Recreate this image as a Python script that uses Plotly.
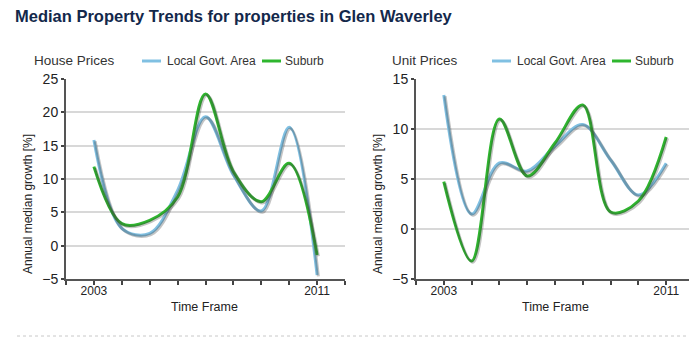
import plotly.graph_objects as go

# ---- data ----
years = [2003, 2004, 2005, 2006, 2007, 2008, 2009, 2010, 2011]
house_lga = [15.85, 2.6, 1.85, 8.3, 19.35, 10.6, 5.2, 17.75, -4.4]
house_suburb = [11.85, 3.3, 3.8, 7.3, 22.75, 11.1, 6.6, 12.35, -1.4]
unit_lga = [13.4, 1.5, 6.6, 5.8, 8.3, 10.45, 6.9, 3.4, 6.57]
unit_suburb = [4.73, -3.2, 11.0, 5.3, 8.6, 12.4, 1.7, 2.8, 9.2]

x_tickvals = list(range(2002, 2013))
x_ticktext = ["2003" if v == 2003 else "2011" if v == 2011 else "" for v in x_tickvals]

OFF = 8  # page body margin
W, H = 697 - OFF, 356 - OFF
BLUE = "#80c0e2"
GREEN = "#2eb62e"
SHADOW = "rgba(60,60,60,0.3)"
FONT = "Liberation Sans, Arial, sans-serif"


def px(x):
    return (x - OFF) / W


def py(y):
    return 1 - (y - OFF) / H


fig = go.Figure()

# plot areas (page pixels): left 66-345, right 416-694, vertical 79-279
ydom = [py(279), py(79)]
sh = 1.3  # shadow offset in px
ydom_sh = [py(279 + sh), py(79 + sh)]
xdom1 = [px(66), px(345)]
xdom2 = [px(416), px(694)]

panels = [
    ("x", "y", "x3", "y3", house_lga, house_suburb),
    ("x2", "y2", "x4", "y4", unit_lga, unit_suburb),
]
for xa, ya, xs, ys, lga, sub in panels:
    for vals in (lga, sub):
        fig.add_trace(go.Scatter(x=years, y=vals, mode="lines", hoverinfo="skip",
                                 line=dict(color=SHADOW, width=3, shape="spline", smoothing=1),
                                 xaxis=xs, yaxis=ys, showlegend=False))
for xa, ya, xs, ys, lga, sub in panels:
    fig.add_trace(go.Scatter(x=years, y=lga, mode="lines", name="Local Govt. Area",
                             line=dict(color=BLUE, width=3, shape="spline", smoothing=1),
                             xaxis=xa, yaxis=ya, showlegend=False))
    fig.add_trace(go.Scatter(x=years, y=sub, mode="lines", name="Suburb",
                             line=dict(color=GREEN, width=3, shape="spline", smoothing=1),
                             xaxis=xa, yaxis=ya, showlegend=False))

xcommon = dict(range=[2002, 2012], tickvals=x_tickvals, ticktext=x_ticktext,
               ticks="outside", ticklen=4, tickwidth=1.5, tickcolor="#444",
               ticklabelstandoff=-4,
               showline=True, linecolor="#555", linewidth=2, showgrid=False,
               zeroline=False, automargin=False,
               tickfont=dict(size=12, color="#222", family=FONT))
ycommon = dict(dtick=5, ticks="outside", ticklen=3, tickwidth=1.5, tickcolor="#444",
               showline=True, linecolor="#555", linewidth=2, showgrid=True,
               gridcolor="#d8d8d8", gridwidth=1.5, zeroline=False, automargin=False,
               tickfont=dict(size=14, color="#222", family=FONT))
hidden = dict(visible=False, automargin=False, fixedrange=True)

fig.update_layout(
    template="none",
    width=W, height=H,
    margin=dict(l=0, r=0, t=0, b=0, pad=0, autoexpand=False),
    paper_bgcolor="white", plot_bgcolor="rgba(0,0,0,0)",
    font=dict(family=FONT, color="#222"),
    showlegend=False,
    xaxis=dict(domain=xdom1, anchor="y", **xcommon),
    yaxis=dict(domain=ydom, anchor="x", range=[-5, 25], **ycommon),
    xaxis2=dict(domain=xdom2, anchor="y2", **xcommon),
    yaxis2=dict(domain=ydom, anchor="x2", range=[-5, 15], **ycommon),
    xaxis3=dict(domain=[px(66 + sh), px(345 + sh)], anchor="y3", range=[2002, 2012], **hidden),
    yaxis3=dict(domain=ydom_sh, anchor="x3", range=[-5, 25], **hidden),
    xaxis4=dict(domain=[px(416 + sh), min(1, px(694 + sh))], anchor="y4",
                range=[2002, 2012 + (sh / 278 * 10 if px(694 + sh) > 1 else 0)], **hidden),
    yaxis4=dict(domain=ydom_sh, anchor="x4", range=[-5, 15], **hidden),
)

ann = []
ann.append(dict(text="<b>Median Property Trends for properties in Glen Waverley</b>",
                x=px(13), y=py(16), xref="paper", yref="paper", xanchor="left", yanchor="middle",
                showarrow=False, font=dict(size=16.5, color="#13284b", family=FONT)))
shapes = []
for x0, label in [(0, "House Prices"), (350, "Unit Prices")]:
    ann.append(dict(text=label, x=px(x0 + 32 if x0 == 0 else x0 + 40), y=py(60), xref="paper", yref="paper",
                    xanchor="left", yanchor="middle", showarrow=False,
                    font=dict(size=13.5, color="#333", family=FONT)))
    # legend
    lx = 142 if x0 == 0 else 492
    shapes.append(dict(type="line", xref="paper", yref="paper", x0=px(lx), x1=px(lx + 19),
                       y0=py(61), y1=py(61), line=dict(color=BLUE, width=3)))
    ann.append(dict(text="Local Govt. Area", x=px(lx + 23), y=py(61), xref="paper", yref="paper",
                    xanchor="left", yanchor="middle", showarrow=False,
                    font=dict(size=12, color="#333", family=FONT)))
    shapes.append(dict(type="line", xref="paper", yref="paper", x0=px(lx + 120), x1=px(lx + 139),
                       y0=py(61), y1=py(61), line=dict(color=GREEN, width=3)))
    ann.append(dict(text="Suburb", x=px(lx + 141), y=py(61), xref="paper", yref="paper",
                    xanchor="left", yanchor="middle", showarrow=False,
                    font=dict(size=12, color="#333", family=FONT)))
    # axis titles
    ann.append(dict(text="Annual median growth [%]", x=px(x0 + 28), y=py(204), xref="paper", yref="paper",
                    xanchor="center", yanchor="middle", textangle=-90, showarrow=False,
                    font=dict(size=12, color="#222", family=FONT)))
    ann.append(dict(text="Time Frame", x=px(x0 + 205), y=py(307), xref="paper", yref="paper",
                    xanchor="center", yanchor="middle", showarrow=False,
                    font=dict(size=12.5, color="#222", family=FONT)))

shapes.append(dict(type="line", xref="paper", yref="paper", x0=px(17), x1=1,
                   y0=py(336), y1=py(336), line=dict(color="#c8c8c8", width=1, dash="dot")))

fig.update_layout(annotations=ann, shapes=shapes)
fig.write_html("out.html")
